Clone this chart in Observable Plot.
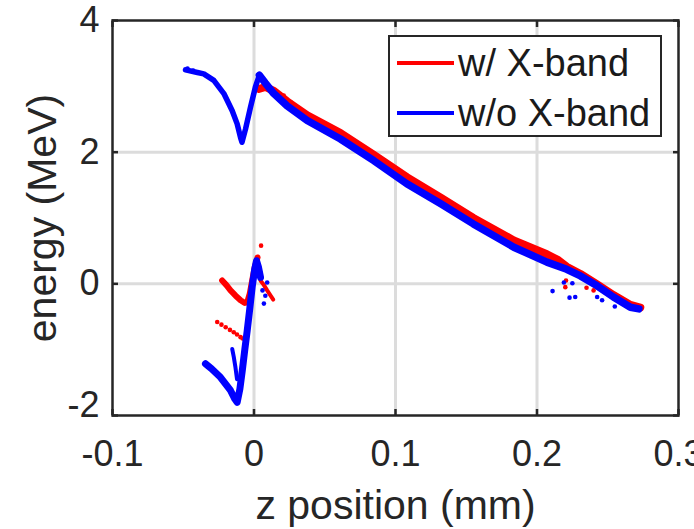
<!DOCTYPE html>
<html>
<head>
<meta charset="utf-8">
<script src="https://cdn.jsdelivr.net/npm/d3@7"></script>
<script src="https://cdn.jsdelivr.net/npm/@observablehq/plot@0.6"></script>
<style>
  html, body { margin: 0; padding: 0; background: white; }
  #wrap { position: relative; width: 694px; height: 529px; overflow: hidden; font-family: "Liberation Sans", Arial, Helvetica, sans-serif; color: #262626; }
  #legend { position: absolute; left: 388px; top: 35px; width: 274px; height: 102px; box-sizing: border-box; border: 2.5px solid #262626; background: white; }
  .lg-row { position: absolute; left: 7px; height: 40px; display: flex; align-items: center; }
  .lg-line { width: 57px; height: 4px; margin-right: 4px; }
  .lg-text { font-size: 38px; line-height: 40px; color: #1a1a1a; }
</style>
</head>
<body>
<div id="wrap">
  <div id="chart"></div>
  <div id="legend">
    <div class="lg-row" style="top:6px"><div class="lg-line" style="background:#ff0000"></div><div class="lg-text">w/ X-band</div></div>
    <div class="lg-row" style="top:56px"><div class="lg-line" style="background:#0000ff"></div><div class="lg-text">w/o X-band</div></div>
  </div>
</div>
<script>
// ---- axis ticks ----
const xTicks = [-0.1, 0, 0.1, 0.2, 0.3];
const yTicks = [-2, 0, 2, 4];
const xGrid = [0, 0.1, 0.2];
const yGrid = [0, 2];
const xLabel = "z position (mm)";
const yLabel = "energy (MeV)";
const seriesNames = ["w/ X-band", "w/o X-band"];

// ---- w/o X-band (blue) : upper branch, head (before the peak) ----
const woHeadZ = [-0.0484, -0.0400, -0.0355, -0.0284, -0.0213, -0.0154, -0.0119, -0.0095, -0.0085, -0.0060, -0.0025, 0.0010, 0.0038];
const woHeadE = [3.25, 3.21, 3.19, 3.09, 2.89, 2.63, 2.43, 2.22, 2.15, 2.35, 2.68, 2.99, 3.17];
// ---- w/o X-band (blue) : upper branch, tail (after the peak) ----
const woTailZ = [0.0038, 0.0080, 0.0140, 0.0235, 0.0376, 0.0611, 0.0847, 0.1080, 0.1320, 0.1550, 0.1836, 0.2070, 0.2210, 0.2307, 0.2425, 0.2540, 0.2660, 0.2720];
const woTailE = [3.17, 3.05, 2.89, 2.70, 2.48, 2.20, 1.87, 1.52, 1.215, 0.91, 0.556, 0.33, 0.22, 0.12, -0.03, -0.20, -0.355, -0.38];
// ---- w/o X-band (blue) : lower branch ----
const woLowZ = [-0.0343, -0.0300, -0.0237, -0.0166, -0.0135, -0.0119, -0.0100, -0.0083, -0.0065, -0.0048, -0.0030, -0.0013, 0.0005, 0.0018, 0.0032, 0.0046];
const woLowE = [-1.215, -1.29, -1.42, -1.62, -1.75, -1.80, -1.60, -1.32, -1.00, -0.71, -0.38, -0.05, 0.22, 0.35, 0.25, 0.10];
const woSideZ = [-0.0154, -0.0143, -0.0131, -0.0120];
const woSideE = [-0.99, -1.11, -1.27, -1.45];
// blue scattered particles
const woDotZ = [0.0060, 0.0070, 0.0093, 0.0080, 0.211, 0.219, 0.223, 0.225, 0.227, 0.2425, 0.246, 0.255, -0.0470, -0.0430];
const woDotE = [-0.10, -0.30, 0.02, -0.18, -0.11, 0.02, -0.21, 0.01, -0.20, -0.20, -0.25, -0.345, 3.27, 3.24];

// ---- w/ X-band (red) : upper branch ----
const wUpZ = [0.0034, 0.0080, 0.0140, 0.0235, 0.0376, 0.0611, 0.0847, 0.1080, 0.1320, 0.1550, 0.1836, 0.2070, 0.2150, 0.2210, 0.2307, 0.2425, 0.2540, 0.2660, 0.2730];
const wUpE = [2.96, 2.99, 2.93, 2.77, 2.56, 2.29, 1.96, 1.62, 1.31, 1.00, 0.66, 0.45, 0.36, 0.26, 0.15, -0.01, -0.17, -0.32, -0.36];
// ---- w/ X-band (red) : lower branches ----
const wLowAZ = [-0.0225, -0.0195, -0.0166, -0.0130, -0.0095, -0.0065, -0.0048, -0.0030, -0.0013, 0.0005, 0.0025];
const wLowAE = [0.05, -0.02, -0.10, -0.18, -0.25, -0.29, -0.28, -0.15, 0.05, 0.25, 0.40];
const wLowBZ = [0.0046, 0.0070, 0.0093, 0.0115, 0.0136];
const wLowBE = [0.05, -0.02, -0.10, -0.17, -0.24];
// red scattered particles
const wDotZ = [-0.026, -0.023, -0.020, -0.017, -0.0143, -0.012, -0.0095, -0.008, 0.0050, 0.021, 0.0258, 0.034, 0.0447, 0.0529, 0.074, 0.220, 0.2205, 0.235, 0.240];
const wDotE = [-0.58, -0.62, -0.66, -0.70, -0.735, -0.77, -0.81, -0.83, 0.58, 2.86, 2.76, 2.63, 2.455, 2.38, 2.05, -0.05, 0.05, -0.06, -0.10];

const zip = (zs, es) => zs.map((z, i) => ({z, e: es[i]}));
const RED = "#ff0000", BLUE = "#0000ff", INK = "#262626";
const fmt = d => (d < 0 ? "-" : "") + String(Math.abs(d));

const lineOpts = (stroke, w) => ({x: "z", y: "e", stroke, strokeWidth: w, strokeLinecap: "round", strokeLinejoin: "round", curve: "linear"});

const chart = Plot.plot({
  width: 694,
  height: 529,
  marginLeft: 112,
  marginRight: 16,
  marginTop: 20,
  marginBottom: 114,
  x: {domain: [-0.1, 0.3]},
  y: {domain: [-2, 4]},
  style: {fontFamily: '"Liberation Sans", Arial, Helvetica, sans-serif', color: INK, background: "white", overflow: "visible"},
  marks: [
    Plot.gridX(xGrid, {stroke: "#dcdcdc", strokeOpacity: 1, strokeWidth: 3}),
    Plot.gridY(yGrid, {stroke: "#dcdcdc", strokeOpacity: 1, strokeWidth: 3}),
    // red (w/ X-band)
    Plot.line(zip(wUpZ, wUpE), lineOpts(RED, 8)),
    Plot.line(zip(wLowAZ, wLowAE), lineOpts(RED, 6)),
    Plot.line(zip(wLowBZ, wLowBE), lineOpts(RED, 4)),
    Plot.dot(zip(wDotZ, wDotE), {x: "z", y: "e", r: 2.3, fill: RED}),
    // blue (w/o X-band)
    Plot.line(zip(woHeadZ, woHeadE), lineOpts(BLUE, 5.5)),
    Plot.line(zip(woTailZ, woTailE), lineOpts(BLUE, 7.5)),
    Plot.line(zip(woLowZ, woLowE), lineOpts(BLUE, 7)),
    Plot.line(zip(woSideZ, woSideE), lineOpts(BLUE, 4)),
    Plot.dot(zip(woDotZ, woDotE), {x: "z", y: "e", r: 2.3, fill: BLUE}),
    // box and inward ticks
    Plot.frame({stroke: INK, strokeWidth: 2.5}),
    Plot.axisX(xTicks, {anchor: "bottom", tickSize: 6, dy: -6, text: null, label: null, stroke: INK, strokeWidth: 2.5}),
    Plot.axisX(xTicks, {anchor: "top", tickSize: 6, dy: 6, text: null, label: null, stroke: INK, strokeWidth: 2.5}),
    Plot.axisY(yTicks, {anchor: "left", tickSize: 6, dx: 6, text: null, label: null, stroke: INK, strokeWidth: 2.5}),
    Plot.axisY(yTicks, {anchor: "right", tickSize: 6, dx: -6, text: null, label: null, stroke: INK, strokeWidth: 2.5}),
    // tick labels
    Plot.axisX(xTicks, {anchor: "bottom", tickSize: 0, tickPadding: 25, fontSize: 36, fill: INK, label: null, tickFormat: fmt}),
    Plot.axisY(yTicks.filter(d => d !== -2), {anchor: "left", tickSize: 0, tickPadding: 13, fontSize: 36, fill: INK, label: null, tickFormat: fmt}),
    Plot.axisY([-2], {anchor: "left", tickSize: 0, tickPadding: 13, fontSize: 36, fill: INK, label: null, tickFormat: fmt, dy: -10}),
    // axis titles
    Plot.text([xLabel], {frameAnchor: "bottom", dy: 103, lineAnchor: "bottom", fontSize: 41, fill: INK, text: d => d}),
    Plot.text([yLabel], {frameAnchor: "left", dx: -70, rotate: -90, textAnchor: "middle", lineAnchor: "middle", fontSize: 41, fill: INK, text: d => d})
  ]
});
document.getElementById("chart").appendChild(chart);
</script>
</body>
</html>
